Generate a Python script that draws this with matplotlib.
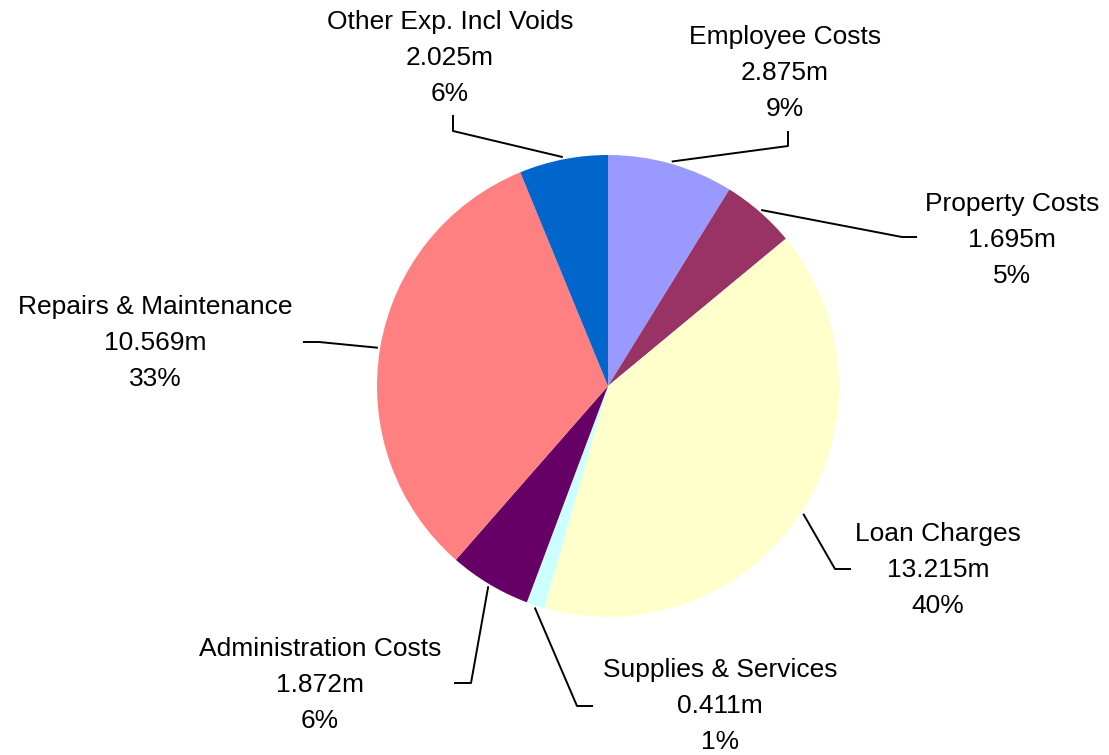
import numpy as np
import matplotlib
matplotlib.use('Agg')
import matplotlib.pyplot as plt

plt.rcParams['font.family'] = ['Liberation Sans', 'DejaVu Sans']

names = ['Employee Costs', 'Property Costs', 'Loan Charges', 'Supplies & Services',
         'Administration Costs', 'Repairs & Maintenance', 'Other Exp. Incl Voids']
values = [2.875, 1.695, 13.215, 0.411, 1.872, 10.569, 2.025]
pcts = ['9%', '5%', '40%', '1%', '6%', '33%', '6%']
colors = ['#9999FF', '#993366', '#FFFFCC', '#CCFFFF', '#660066', '#FF8080', '#0066CC']

H = 755
cx, cy, r = 608, 386, 231

# label layout in pixel coords: (text x, text middle y, elbow, end of leader)
layout = [
    (785, 73, (788, 146), (788, 131)),
    (1012, 240, (902, 237), (917, 237)),
    (938, 570, (835, 569), (851, 569)),
    (720, 706, (577, 706), (593, 706)),
    (320, 685, (471, 683), (454, 683)),
    (155, 343, (319, 342), (303, 342)),
    (450, 58, (453, 131), (453, 115)),
]

fig = plt.figure(figsize=(11.09, 7.55), dpi=100)
ax = fig.add_axes([0, 0, 1, 1])

ax.pie(values, colors=colors, startangle=90, counterclock=False,
       center=(cx, H - cy), radius=r, wedgeprops=dict(linewidth=0))

total = sum(values)
cum = 0
for i, v in enumerate(values):
    mid = (cum + v / 2) / total * 2 * np.pi
    cum += v
    sx = cx + r * 1.01 * np.sin(mid)
    sy = cy - r * 1.01 * np.cos(mid)
    tx, ty, e1, e2 = layout[i]
    ax.plot([sx, e1[0], e2[0]], [H - sy, H - e1[1], H - e2[1]],
            color='black', lw=1.4, solid_capstyle='butt')
    ax.text(tx, H - ty, f'{names[i]}\n{v:.3f}m\n{pcts[i]}', ha='center', va='center',
            fontsize=19, linespacing=1.65, color='black')

ax.set_xlim(0, 1109)
ax.set_ylim(0, H)
ax.set_aspect('equal')
ax.axis('off')

fig.savefig('out.png', dpi=100, facecolor='white')
